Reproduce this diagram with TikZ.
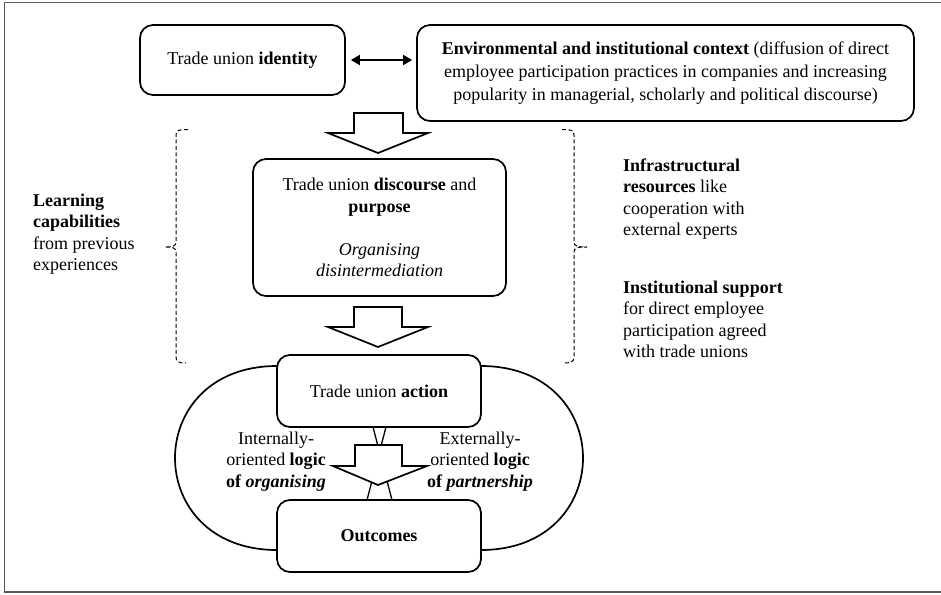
\documentclass[tikz,border=0pt]{standalone}
\usepackage{fontspec}
\setmainfont{Liberation Serif}
\usetikzlibrary{arrows.meta}
\newcommand\fsz{\fontsize{18}{21.5}\selectfont}
\newcommand\fszb{\fontsize{18}{23.2}\selectfont}
\begin{document}
\begin{tikzpicture}[x=1pt,y=-1pt,
  box/.style={draw, line width=1.7pt, rounded corners=13pt, align=center, inner sep=0pt, fill=white, font=\fsz},
  txt/.style={align=left, inner sep=0pt, font=\fsz},
  lbl/.style={align=center, inner sep=0pt, font=\fsz},
  bigarr/.style={draw, fill=white, line width=1.7pt, line join=miter},
  brace/.style={line width=1pt, dash pattern=on 4pt off 2.5pt},
  loop/.style={line width=1.7pt},
  dbl/.style={line width=1.6pt, {Triangle[length=9pt,width=10pt]}-{Triangle[length=9pt,width=10pt]}, shorten <=5pt, shorten >=4pt},
  frame/.style={draw=black!65, line width=1.8pt}]
\useasboundingbox (0,0) rectangle (941,594);
\draw[frame] (941,2.5) -- (4.5,2.5) -- (4.5,592) -- (941,592);

% loops around action/outcomes
\coordinate (la) at (277,366);
\coordinate (lb) at (277,550);
\coordinate (ra) at (481,366);
\coordinate (rb) at (481,550);
\draw[loop] (la) .. controls (141,366) and (141,550) .. (lb);
\draw[loop] (ra) .. controls (617,366) and (617,550) .. (rb);

% crossing lines
\coordinate (x1) at (373,427);
\coordinate (x2) at (392,500);
\coordinate (x3) at (386,427);
\coordinate (x4) at (367,500);
\draw[line width=1.3pt] (x1) -- (x2);
\draw[line width=1.3pt] (x3) -- (x4);

% nodes
\node[box, minimum width=205pt, minimum height=70pt] (id) at (242.5,60) {Trade union \textbf{identity}};
\node[box, minimum width=497pt, minimum height=96pt, font=\fszb] (env) at (665.5,73)
  {\textbf{Environmental and institutional context} (diffusion of direct\\
   employee participation practices in companies and increasing\\
   popularity in managerial, scholarly and political discourse)};
\node[box, minimum width=253pt, minimum height=137pt] (disc) at (379.5,227.5)
  {Trade union \textbf{discourse} and\\ \textbf{purpose}\\[21.5pt] \textit{Organising}\\ \textit{disintermediation}};
\node[box, minimum width=204pt, minimum height=72pt] (act) at (379,391) {Trade union \textbf{action}};
\node[box, minimum width=204pt, minimum height=72pt] (out) at (379,536) {\textbf{Outcomes}};

\draw[dbl] (id.east) -- (id.east -| env.west);

% big arrows
\draw[bigarr] (354,113) -- (403,113) -- (403,133) -- (428,133) -- (378,153) -- (328,133) -- (354,133) -- cycle;
\draw[bigarr] (354,307) -- (402,307) -- (402,327) -- (428,327) -- (378,347) -- (328,327) -- (354,327) -- cycle;
\draw[bigarr] (355,445) -- (402,445) -- (402,466) -- (427,466) -- (378,485) -- (333,466) -- (355,466) -- cycle;

% labels on logic
\node[lbl] (intl) at (276,461.5) {Internally-\\oriented \textbf{logic}\\\textbf{of \textit{organising}}};
\node[lbl] (extl) at (480,461.5) {Externally-\\oriented \textbf{logic}\\\textbf{of \textit{partnership}}};

% braces
\draw[brace] (188,129.5) .. controls (179,129.5) and (176,130) .. (176,135) -- (176,242)
  .. controls (176,246) and (173,247) .. (165,247)
  .. controls (173,247) and (176,248) .. (176,252) -- (176,357)
  .. controls (176,362) and (179,363) .. (186,363);
\draw[brace] (562,129.5) .. controls (571,129.5) and (574,130) .. (574,135) -- (574,242)
  .. controls (574,246) and (577,247) .. (587,247)
  .. controls (577,247) and (574,248) .. (574,252) -- (574,357)
  .. controls (574,362) and (571,363) .. (563,363);

% side texts
\node[txt, anchor=north west] (learn) at (33,193.5) {\textbf{Learning}\\\textbf{capabilities}\\from previous\\experiences};
\node[txt, anchor=north west] (infra) at (623,158.5) {\textbf{Infrastructural}\\\textbf{resources} like\\cooperation with\\external experts};
\node[txt, anchor=north west] (inst) at (623,280.5) {\textbf{Institutional support}\\for direct employee\\participation agreed\\with trade unions};
\end{tikzpicture}
\end{document}
